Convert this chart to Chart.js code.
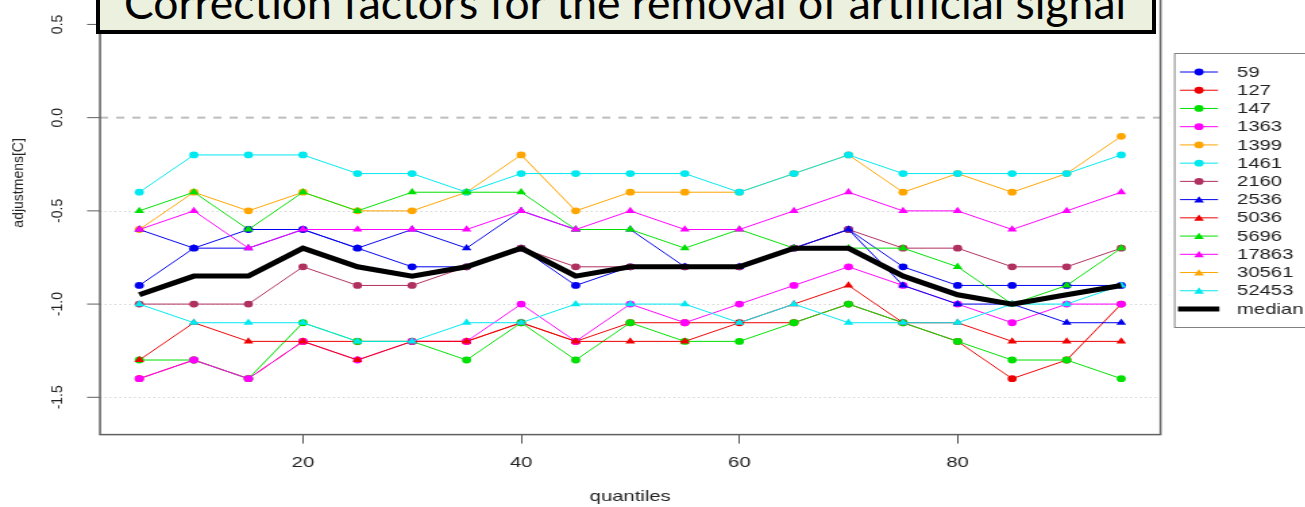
<!DOCTYPE html>
<html>
<head>
<meta charset="utf-8">
<script src="https://cdn.jsdelivr.net/npm/chart.js@4.4.1/dist/chart.umd.min.js"></script>
<style>
  html, body { margin: 0; padding: 0; background: #fff; width: 1305px; height: 507px; overflow: hidden; position: relative; }
  /* the source plot is stretched sideways, so the stage is drawn narrow and widened */
  #stage { position: absolute; left: 0; top: -73px; width: 967px; height: 580px; transform: scaleX(1.35); transform-origin: 0 0; }
  #banner { position: absolute; left: 96px; top: -30px; width: 1060px; height: 64px; box-sizing: border-box;
            border: 4px solid #000; background: #ebf1de; z-index: 2; }
  #bannerText { position: absolute; left: 124px; white-space: nowrap; font-family: Lato, 'Open Sans', sans-serif; color: #000; z-index: 3; }
</style>
</head>
<body>
<div id="stage"><canvas id="adj"></canvas></div>
<div id="banner"></div>
<div id="bannerText">Correction factors for the removal of artificial signal</div>
<script>
const SX = 1.35;

// quantile positions on the x axis
const quantiles = [5, 10, 15, 20, 25, 30, 35, 40, 45, 50, 55, 60, 65, 70, 75, 80, 85, 90, 95];

// adjustment per series
const s59    = [-0.9, -0.7, -0.6, -0.6, -0.7, -0.8, -0.8, -0.7, -0.9, -0.8, -0.8, -0.8, -0.7, -0.6, -0.8, -0.9, -0.9, -0.9, -0.9];
const s127   = [-1.4, -1.3, -1.4, -1.2, -1.2, -1.2, -1.2, -1.1, -1.2, -1.1, -1.1, -1.1, -1.1, -1.0, -1.1, -1.2, -1.4, -1.3, -1.0];
const s147   = [-1.3, -1.3, -1.4, -1.1, -1.2, -1.2, -1.3, -1.1, -1.3, -1.1, -1.2, -1.2, -1.1, -1.0, -1.1, -1.2, -1.3, -1.3, -1.4];
const s1363  = [-1.4, -1.3, -1.4, -1.2, -1.3, -1.2, -1.2, -1.0, -1.2, -1.0, -1.1, -1.0, -0.9, -0.8, -0.9, -1.0, -1.1, -1.0, -1.0];
const s1399  = [-0.6, -0.4, -0.5, -0.4, -0.5, -0.5, -0.4, -0.2, -0.5, -0.4, -0.4, -0.4, -0.3, -0.2, -0.4, -0.3, -0.4, -0.3, -0.1];
const s1461  = [-0.4, -0.2, -0.2, -0.2, -0.3, -0.3, -0.4, -0.3, -0.3, -0.3, -0.3, -0.4, -0.3, -0.2, -0.3, -0.3, -0.3, -0.3, -0.2];
const s2160  = [-1.0, -1.0, -1.0, -0.8, -0.9, -0.9, -0.8, -0.7, -0.8, -0.8, -0.8, -0.8, -0.7, -0.6, -0.7, -0.7, -0.8, -0.8, -0.7];
const s2536  = [-0.6, -0.7, -0.7, -0.6, -0.7, -0.6, -0.7, -0.5, -0.6, -0.6, -0.8, -0.8, -0.7, -0.6, -0.9, -1.0, -1.0, -1.1, -1.1];
const s5036  = [-1.3, -1.1, -1.2, -1.2, -1.3, -1.2, -1.2, -1.1, -1.2, -1.2, -1.2, -1.1, -1.0, -0.9, -1.1, -1.1, -1.2, -1.2, -1.2];
const s5696  = [-0.5, -0.4, -0.6, -0.4, -0.5, -0.4, -0.4, -0.4, -0.6, -0.6, -0.7, -0.6, -0.7, -0.7, -0.7, -0.8, -1.0, -0.9, -0.7];
const s17863 = [-0.6, -0.5, -0.7, -0.6, -0.6, -0.6, -0.6, -0.5, -0.6, -0.5, -0.6, -0.6, -0.5, -0.4, -0.5, -0.5, -0.6, -0.5, -0.4];
const s30561 = [null, null, null, null, null, null, null, null, null, null, null, null, null, null, null, null, null, null, null];
const s52453 = [-1.0, -1.1, -1.1, -1.1, -1.2, -1.2, -1.1, -1.1, -1.0, -1.0, -1.0, -1.1, -1.0, -1.1, -1.1, -1.1, -1.0, -1.0, -0.9];
const median = [-0.95, -0.85, -0.85, -0.7, -0.8, -0.85, -0.8, -0.7, -0.85, -0.8, -0.8, -0.8, -0.7, -0.7, -0.85, -0.95, -1.0, -0.95, -0.9];

const seriesNames = ['59', '127', '147', '1363', '1399', '1461', '2160', '2536', '5036', '5696', '17863', '30561', '52453', 'median'];
const seriesValues = [s59, s127, s147, s1363, s1399, s1461, s2160, s2536, s5036, s5696, s17863, s30561, s52453, median];

const xTicks = [20, 40, 60, 80];
const yTicks = [-1.5, -1.0, -0.5, 0.0, 0.5];

// styles
const seriesColors = ['#0000ee', '#ee0000', '#00e000', '#ff00ff', '#ffa500', '#00e8f0', '#b03060',
                      '#0000ee', '#ee0000', '#00e000', '#ff00ff', '#ffa500', '#00e8f0', '#000000'];
const seriesMarks  = ['circle', 'circle', 'circle', 'circle', 'circle', 'circle', 'circle',
                      'triangle', 'triangle', 'triangle', 'triangle', 'triangle', 'triangle', false];

const FONT = "'Liberation Sans', Arial, sans-serif";
const INK = '#222';

// banner text: fit to the box width, baseline near the top edge of the page
(function () {
  const el = document.getElementById('bannerText');
  const m = document.createElement('canvas').getContext('2d');
  m.font = '40px Lato';
  const size = 40 * 1004 / m.measureText(el.textContent).width;
  m.font = size + 'px Lato';
  const mt = m.measureText(el.textContent);
  const asc = mt.fontBoundingBoxAscent, desc = mt.fontBoundingBoxDescent;
  el.style.fontSize = size + 'px';
  el.style.lineHeight = size + 'px';
  el.style.top = (20 - ((size - asc - desc) / 2 + asc)) + 'px';
})();

function markPath(ctx, style, x, y, r) {
  ctx.beginPath();
  if (style === 'triangle') {
    for (let k = 0; k < 3; k++) {
      const a = k * 2 * Math.PI / 3;
      const px = x + Math.sin(a) * r, py = y - Math.cos(a) * r;
      k ? ctx.lineTo(px, py) : ctx.moveTo(px, py);
    }
    ctx.closePath();
  } else {
    ctx.arc(x, y, r, 0, Math.PI * 2);
  }
  ctx.fill();
}

// grid, zero line, box, y axis and the legend
const framePlugin = {
  id: 'frame',
  beforeDatasetsDraw(chart) {
    const { ctx, chartArea: a, scales: { y } } = chart;
    ctx.save();
    ctx.lineWidth = 1;
    ctx.strokeStyle = '#cfcfcf';
    ctx.setLineDash([1.2, 2.4]);
    yTicks.forEach((v) => {
      if (v === 0) return;
      const py = Math.round(y.getPixelForValue(v)) + 0.5;
      ctx.beginPath(); ctx.moveTo(a.left, py); ctx.lineTo(a.right, py); ctx.stroke();
    });
    ctx.strokeStyle = '#bdbdbd';
    ctx.lineWidth = 2;
    ctx.setLineDash([6, 6]);
    const p0 = y.getPixelForValue(0);
    ctx.beginPath(); ctx.moveTo(a.left, p0); ctx.lineTo(a.right, p0); ctx.stroke();
    ctx.restore();
  },
  afterDraw(chart) {
    const { ctx, chartArea: a, scales: { y } } = chart;
    ctx.save();
    // box
    ctx.strokeStyle = '#606060';
    ctx.lineWidth = 1.5;
    ctx.strokeRect(a.left, a.top, a.right - a.left, a.bottom - a.top);

    // y ticks and rotated labels (kept unstretched)
    ctx.lineWidth = 1;
    ctx.fillStyle = INK;
    ctx.font = '14px ' + FONT;
    ctx.textAlign = 'center';
    ctx.textBaseline = 'middle';
    yTicks.forEach((v) => {
      const py = y.getPixelForValue(v);
      ctx.beginPath(); ctx.moveTo(a.left - 9.6, py); ctx.lineTo(a.left, py); ctx.stroke();
      ctx.save();
      ctx.translate(58 / SX, py);
      ctx.scale(1 / SX, 1);
      ctx.rotate(-Math.PI / 2);
      ctx.fillText(v.toFixed(1), 0, 0);
      ctx.restore();
    });
    ctx.save();
    ctx.translate(18.5 / SX, (a.top + a.bottom) / 2);
    ctx.scale(1 / SX, 1);
    ctx.rotate(-Math.PI / 2);
    ctx.font = '14px ' + FONT;
    ctx.fillText('adjustmens[C]', 0, 0);
    ctx.restore();

    // legend
    const L = { left: 1174 / SX, top: 126, bottom: 400, row0: 145, rowH: 18.23,
                x0: 1180 / SX, x1: 1218 / SX, xm: 1199 / SX, xt: 1237 / SX };
    ctx.strokeStyle = '#808080';
    ctx.lineWidth = 1;
    ctx.strokeRect(L.left + 0.5, L.top + 0.5, 200, L.bottom - L.top);
    ctx.textAlign = 'left';
    ctx.font = '15px ' + FONT;
    chart.data.datasets.forEach((ds, i) => {
      const ly = L.row0 + i * L.rowH;
      ctx.strokeStyle = ds.borderColor;
      ctx.lineWidth = ds.borderWidth;
      ctx.beginPath(); ctx.moveTo(ds.pointStyle ? L.x0 : L.x0 - 1.5, ly); ctx.lineTo(ds.pointStyle ? L.x1 : L.x1 + 1, ly); ctx.stroke();
      if (ds.pointStyle) {
        ctx.fillStyle = ds.borderColor;
        markPath(ctx, ds.pointStyle, L.xm, ly + (ds.pointStyle === 'triangle' ? 0.8 : 0), ds.pointRadius);
      }
      ctx.fillStyle = INK;
      ctx.fillText(ds.label, L.xt, ly + 0.5);
    });
    ctx.restore();
  },
};

const datasets = seriesNames.map((name, i) => ({
  label: name,
  data: quantiles.map((q, j) => ({ x: q, y: seriesValues[i][j] })),
  borderColor: seriesColors[i],
  backgroundColor: seriesColors[i],
  borderWidth: seriesMarks[i] ? 1 : 5,
  pointStyle: seriesMarks[i],
  pointRadius: seriesMarks[i] === 'triangle' ? 4.2 : (seriesMarks[i] ? 3.4 : 0),
  pointBorderWidth: 0,
  pointBackgroundColor: seriesColors[i],
  tension: 0,
  spanGaps: false,
  order: seriesNames.length - i,
}));

new Chart(document.getElementById('adj'), {
  type: 'line',
  plugins: [framePlugin],
  data: { datasets },
  options: {
    responsive: true,
    maintainAspectRatio: false,
    animation: false,
    events: [],
    layout: { padding: { left: 100 / SX, right: 967 - 1160.5 / SX, top: 0, bottom: 0 } },
    plugins: { legend: { display: false }, tooltip: { enabled: false } },
    scales: {
      x: {
        type: 'linear',
        min: 1.4,
        max: 98.6,
        afterBuildTicks: (s) => { s.ticks = xTicks.map((v) => ({ value: v })); },
        afterFit: (s) => { s.height = 72.4; },
        grid: { drawOnChartArea: false, color: 'transparent', tickColor: '#555', tickLength: 9, tickWidth: 1 },
        border: { display: false },
        ticks: { color: INK, font: { family: FONT, size: 15 }, padding: 10, maxRotation: 0 },
        title: { display: true, text: 'quantiles', color: INK, font: { family: FONT, size: 15 }, padding: { top: 0, bottom: 1 } },
      },
      y: {
        type: 'linear',
        min: -1.7,
        max: 1.0,
        display: false,
      },
    },
  },
});
</script>
</body>
</html>
